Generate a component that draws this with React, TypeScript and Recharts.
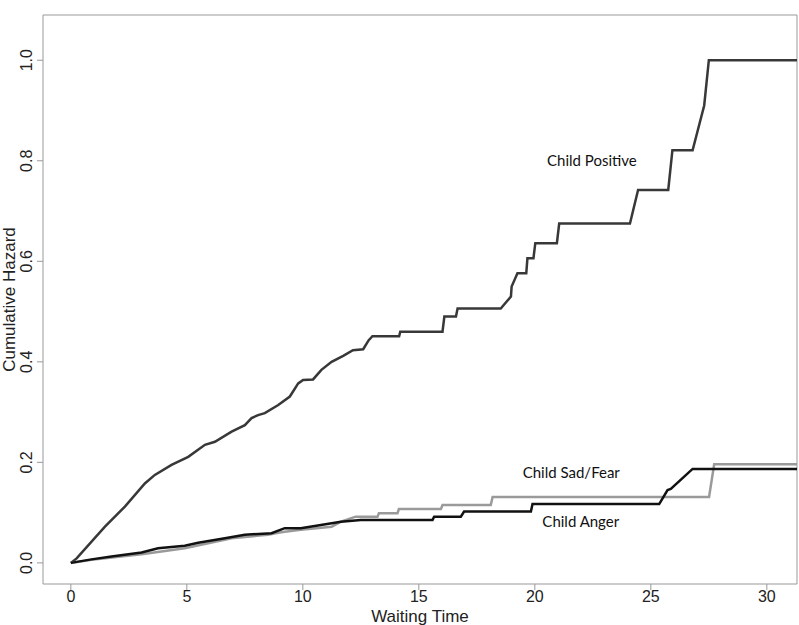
import React from "react";
import { LineChart, Line, XAxis, YAxis, ReferenceArea, ReferenceDot } from "recharts";

// Child Positive (dark grey)
const positiveTime = [0, 0.25, 1.47, 2.33, 3.19, 3.62, 4.34, 5.06, 5.78, 6.21, 6.93, 7.5, 7.79, 8.07, 8.36, 8.94, 9.44, 9.8, 10.01, 10.44, 10.8, 11.24, 11.74, 12.16, 12.6, 12.84, 13.0, 14.15, 14.2, 16.02, 16.1, 16.6, 16.67, 18.53, 18.97, 19.0, 19.25, 19.63, 19.68, 19.94, 20.02, 20.95, 21.05, 24.1, 24.45, 25.75, 25.93, 26.8, 27.3, 27.5, 31.3];
const positiveHazard = [0, 0.009, 0.072, 0.112, 0.158, 0.175, 0.195, 0.211, 0.235, 0.241, 0.261, 0.274, 0.288, 0.294, 0.298, 0.314, 0.331, 0.357, 0.364, 0.365, 0.384, 0.4, 0.412, 0.423, 0.425, 0.443, 0.451, 0.451, 0.46, 0.46, 0.49, 0.49, 0.506, 0.506, 0.53, 0.55, 0.576, 0.576, 0.606, 0.606, 0.636, 0.636, 0.675, 0.675, 0.742, 0.742, 0.821, 0.821, 0.91, 1.0, 1.0];

// Child Anger (black)
const angerTime = [0, 0.89, 1.75, 3.05, 3.76, 4.91, 5.49, 6.64, 7.5, 8.65, 9.22, 9.91, 10.78, 11.64, 12.5, 15.59, 15.66, 16.81, 16.95, 19.83, 19.9, 25.36, 25.72, 25.86, 26.8, 31.3];
const angerHazard = [0, 0.007, 0.0125, 0.0205, 0.029, 0.034, 0.04, 0.049, 0.056, 0.059, 0.069, 0.069, 0.0755, 0.082, 0.0855, 0.0855, 0.092, 0.092, 0.102, 0.102, 0.117, 0.117, 0.145, 0.147, 0.187, 0.187];

// Child Sad/Fear (light grey)
const sadTime = [0, 0.89, 3.05, 4.91, 6.93, 8.5, 8.94, 9.22, 9.91, 11.24, 11.64, 12.28, 13.22, 13.28, 14.08, 14.14, 15.95, 16.02, 18.1, 18.18, 27.51, 27.73, 31.3];
const sadHazard = [0, 0.006, 0.017, 0.029, 0.049, 0.056, 0.06, 0.062, 0.066, 0.072, 0.082, 0.092, 0.092, 0.099, 0.099, 0.107, 0.107, 0.115, 0.115, 0.131, 0.131, 0.196, 0.196];

const xTicks = [0, 5, 10, 15, 20, 25, 30];
const yTicks = [0, 0.2, 0.4, 0.6, 0.8, 1.0];

const X_DOMAIN: [number, number] = [-1.2, 31.3];
const Y_DOMAIN: [number, number] = [-0.042, 1.09];

const toPoints = (t: number[], h: number[]) => t.map((v, i) => ({ t: v, h: h[i] }));

const positiveData = toPoints(positiveTime, positiveHazard);
const angerData = toPoints(angerTime, angerHazard);
const sadData = toPoints(sadTime, sadHazard);

const AXIS_FONT = "'Liberation Sans', Arial, sans-serif";
const NOTE_FONT = "Lato, 'Open Sans', sans-serif";

const XTick = (props: any) => {
  const { x, y, payload } = props;
  return (
    <text x={x} y={y + 10} textAnchor="middle" fontSize={16} fontFamily={AXIS_FONT} fill="#222">
      {payload.value}
    </text>
  );
};

const YTick = (props: any) => {
  const { x, y, payload } = props;
  const px = x - 3;
  return (
    <text x={px} y={y} transform={`rotate(-90 ${px} ${y})`} textAnchor="middle" fontSize={16} fontFamily={AXIS_FONT} fill="#222">
      {Number(payload.value).toFixed(1)}
    </text>
  );
};

const XTitle = (props: any) => {
  const { viewBox } = props;
  return (
    <text x={viewBox.x + viewBox.width / 2} y={viewBox.y + 38} textAnchor="middle" fontSize={17} fontFamily={AXIS_FONT} fill="#222">
      Waiting Time
    </text>
  );
};

const YTitle = (props: any) => {
  const { viewBox } = props;
  const cx = 15;
  const cy = viewBox.y + viewBox.height / 2;
  return (
    <text x={cx} y={cy} transform={`rotate(-90 ${cx} ${cy})`} textAnchor="middle" fontSize={17} fontFamily={AXIS_FONT} fill="#222">
      Cumulative Hazard
    </text>
  );
};

const note = (value: string) => ({ value, position: "center" as const, fontSize: 15, fontFamily: NOTE_FONT, fill: "#111" });

export default function App() {
  return (
    <div style={{ position: "absolute", left: 0, top: 0, width: 799, height: 625, background: "#fff" }}>
      <LineChart width={799} height={625} margin={{ top: 15, right: 2, bottom: 0, left: 0 }}>
        <XAxis
          dataKey="t"
          type="number"
          domain={X_DOMAIN}
          ticks={xTicks}
          allowDataOverflow
          height={41}
          axisLine={false}
          tickSize={6}
          tickLine={{ stroke: "#999" }}
          tick={<XTick />}
          label={<XTitle />}
        />
        <YAxis
          dataKey="h"
          type="number"
          domain={Y_DOMAIN}
          ticks={yTicks}
          allowDataOverflow
          width={43}
          axisLine={false}
          tickSize={6}
          tickLine={{ stroke: "#999" }}
          tick={<YTick />}
          label={<YTitle />}
        />
        <ReferenceArea x1={X_DOMAIN[0]} x2={X_DOMAIN[1]} y1={Y_DOMAIN[0]} y2={Y_DOMAIN[1]} fill="none" stroke="#999" strokeWidth={1} />
        <Line data={positiveData} dataKey="h" type="linear" stroke="#383838" strokeWidth={2.5} dot={false} isAnimationActive={false} />
        <Line data={sadData} dataKey="h" type="linear" stroke="#9a9a9a" strokeWidth={2.5} dot={false} isAnimationActive={false} />
        <Line data={angerData} dataKey="h" type="linear" stroke="#111" strokeWidth={2.5} dot={false} isAnimationActive={false} />
        <ReferenceDot x={22.46} y={0.801} r={0} fill="none" stroke="none" label={note("Child Positive")} />
        <ReferenceDot x={21.57} y={0.18} r={0} fill="none" stroke="none" label={note("Child Sad/Fear")} />
        <ReferenceDot x={21.98} y={0.081} r={0} fill="none" stroke="none" label={note("Child Anger")} />
      </LineChart>
    </div>
  );
}
